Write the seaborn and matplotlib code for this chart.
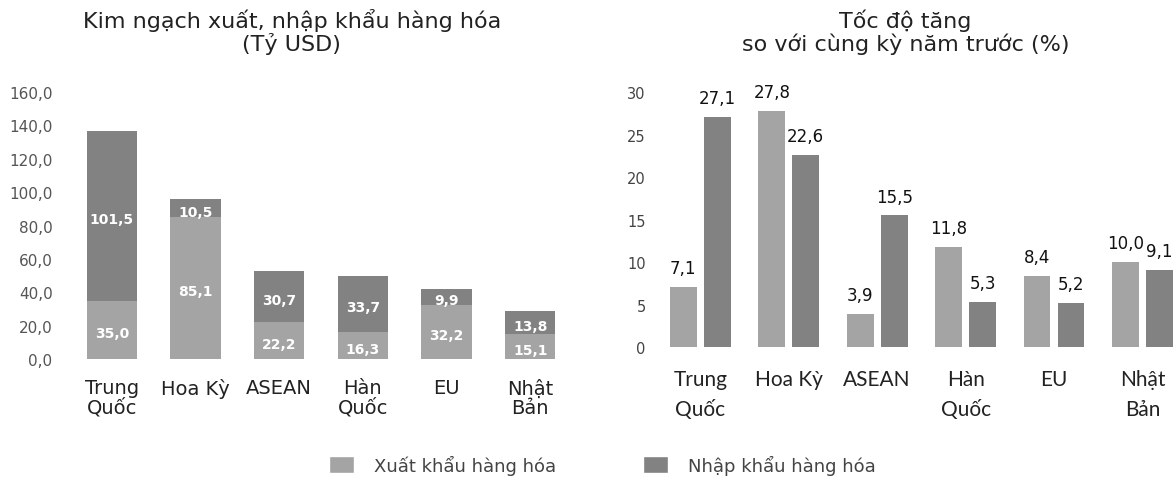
import numpy as np
import pandas as pd
import seaborn as sns
import matplotlib.pyplot as plt
from matplotlib.patches import Patch

# data
regions = ["Trung\nQuốc", "Hoa Kỳ", "ASEAN", "Hàn\nQuốc", "EU", "Nhật\nBản"]
export_val = [35.0, 85.1, 22.2, 16.3, 32.2, 15.1]    # ty USD
import_val = [101.5, 10.5, 30.7, 33.7, 9.9, 13.8]
export_growth = [7.1, 27.8, 3.9, 11.8, 8.4, 10.0]    # %
import_growth = [27.1, 22.6, 15.5, 5.3, 5.2, 9.1]
series = ["Xuất khẩu hàng hóa", "Nhập khẩu hàng hóa"]
left_ticks = [0, 20, 40, 60, 80, 100, 120, 140, 160]
right_ticks = [0, 5, 10, 15, 20, 25, 30]

light = "#a4a4a4"
dark = "#828282"

sns.set_style("white")
plt.rcParams["font.family"] = ["DejaVu Sans"]

def vn(v):
    return f"{v:.1f}".replace(".", ",")

fig = plt.figure(figsize=(11.76, 4.81), dpi=100)

# ---- left: stacked values
ax1 = fig.add_axes([0.0553, 0.2516, 0.4354, 0.555])
totals = np.array(export_val) + np.array(import_val)
sns.barplot(x=regions, y=totals, color=dark, width=0.6, saturation=1,
            edgecolor="none", linewidth=0, ax=ax1)
sns.barplot(x=regions, y=export_val, color=light, width=0.6, saturation=1,
            edgecolor="none", linewidth=0, ax=ax1)
for i in range(len(regions)):
    ax1.text(i, export_val[i] / 2 - 2, vn(export_val[i]), ha="center", va="center",
             color="white", fontsize=10, fontweight="bold")
    ax1.text(i, export_val[i] + import_val[i] / 2 - 2, vn(import_val[i]), ha="center",
             va="center", color="white", fontsize=10, fontweight="bold")
ax1.set_xlim(-0.56, 5.56)
ax1.set_ylim(0, 160)
ax1.set_yticks(left_ticks)
ax1.set_yticklabels([vn(t) for t in left_ticks], fontsize=11, color="#555555")
ax1.set_xticks(range(len(regions)))
ax1.set_xticklabels(regions, fontsize=14, color="#222222", linespacing=1.0)
ax1.tick_params(axis="y", length=0, pad=9)
ax1.tick_params(axis="x", length=0, pad=14)
ax1.set_xlabel("")
ax1.set_ylabel("")
sns.despine(ax=ax1, left=True, bottom=True)

# ---- right: growth rates
ax2 = fig.add_axes([0.5527, 0.2765, 0.4473, 0.530])
df = pd.DataFrame({
    "region": regions * 2,
    "type": [series[0]] * 6 + [series[1]] * 6,
    "value": export_growth + import_growth,
})
sns.barplot(data=df, x="region", y="value", hue="type", palette=[light, dark],
            width=0.77, gap=0.21, saturation=1, edgecolor="none", linewidth=0,
            legend=False, ax=ax2)
for cont in ax2.containers:
    ax2.bar_label(cont, labels=[vn(b.get_height()) for b in cont], padding=7,
                  fontsize=12, color="#111111")
ax2.set_xlim(-0.57, 5.38)
ax2.set_ylim(0, 30)
ax2.set_yticks(right_ticks)
ax2.set_yticklabels([str(t) for t in right_ticks], fontsize=10.5, color="#444444")
ax2.set_xticks(range(len(regions)))
ax2.set_xticklabels(regions, fontsize=15, color="#222222", linespacing=1.6,
                    family=["Lato", "DejaVu Sans"])
ax2.tick_params(axis="y", length=0, pad=3)
ax2.tick_params(axis="x", length=0, pad=16)
ax2.set_xlabel("")
ax2.set_ylabel("")
sns.despine(ax=ax2, left=True, bottom=True)

# titles
fig.text(0.248, 1 - 32 / 481, "Kim ngạch xuất, nhập khẩu hàng hóa\n(Tỷ USD)",
         ha="center", va="center", fontsize=16, color="#222222", linespacing=1.1)
fig.text(0.770, 1 - 32 / 481, "Tốc độ tăng\nso với cùng kỳ năm trước (%)",
         ha="center", va="center", fontsize=16, color="#222222", linespacing=1.1)

handles = [Patch(facecolor=light, label=series[0]), Patch(facecolor=dark, label=series[1])]
fig.legend(handles=handles, loc="center", bbox_to_anchor=(0.512, 0.032), ncol=2,
           frameon=False, fontsize=13, handlelength=1.4, handleheight=1.05,
           handletextpad=1.1, columnspacing=4.8, labelcolor="#444444")

plt.savefig("out.png", dpi=100)
